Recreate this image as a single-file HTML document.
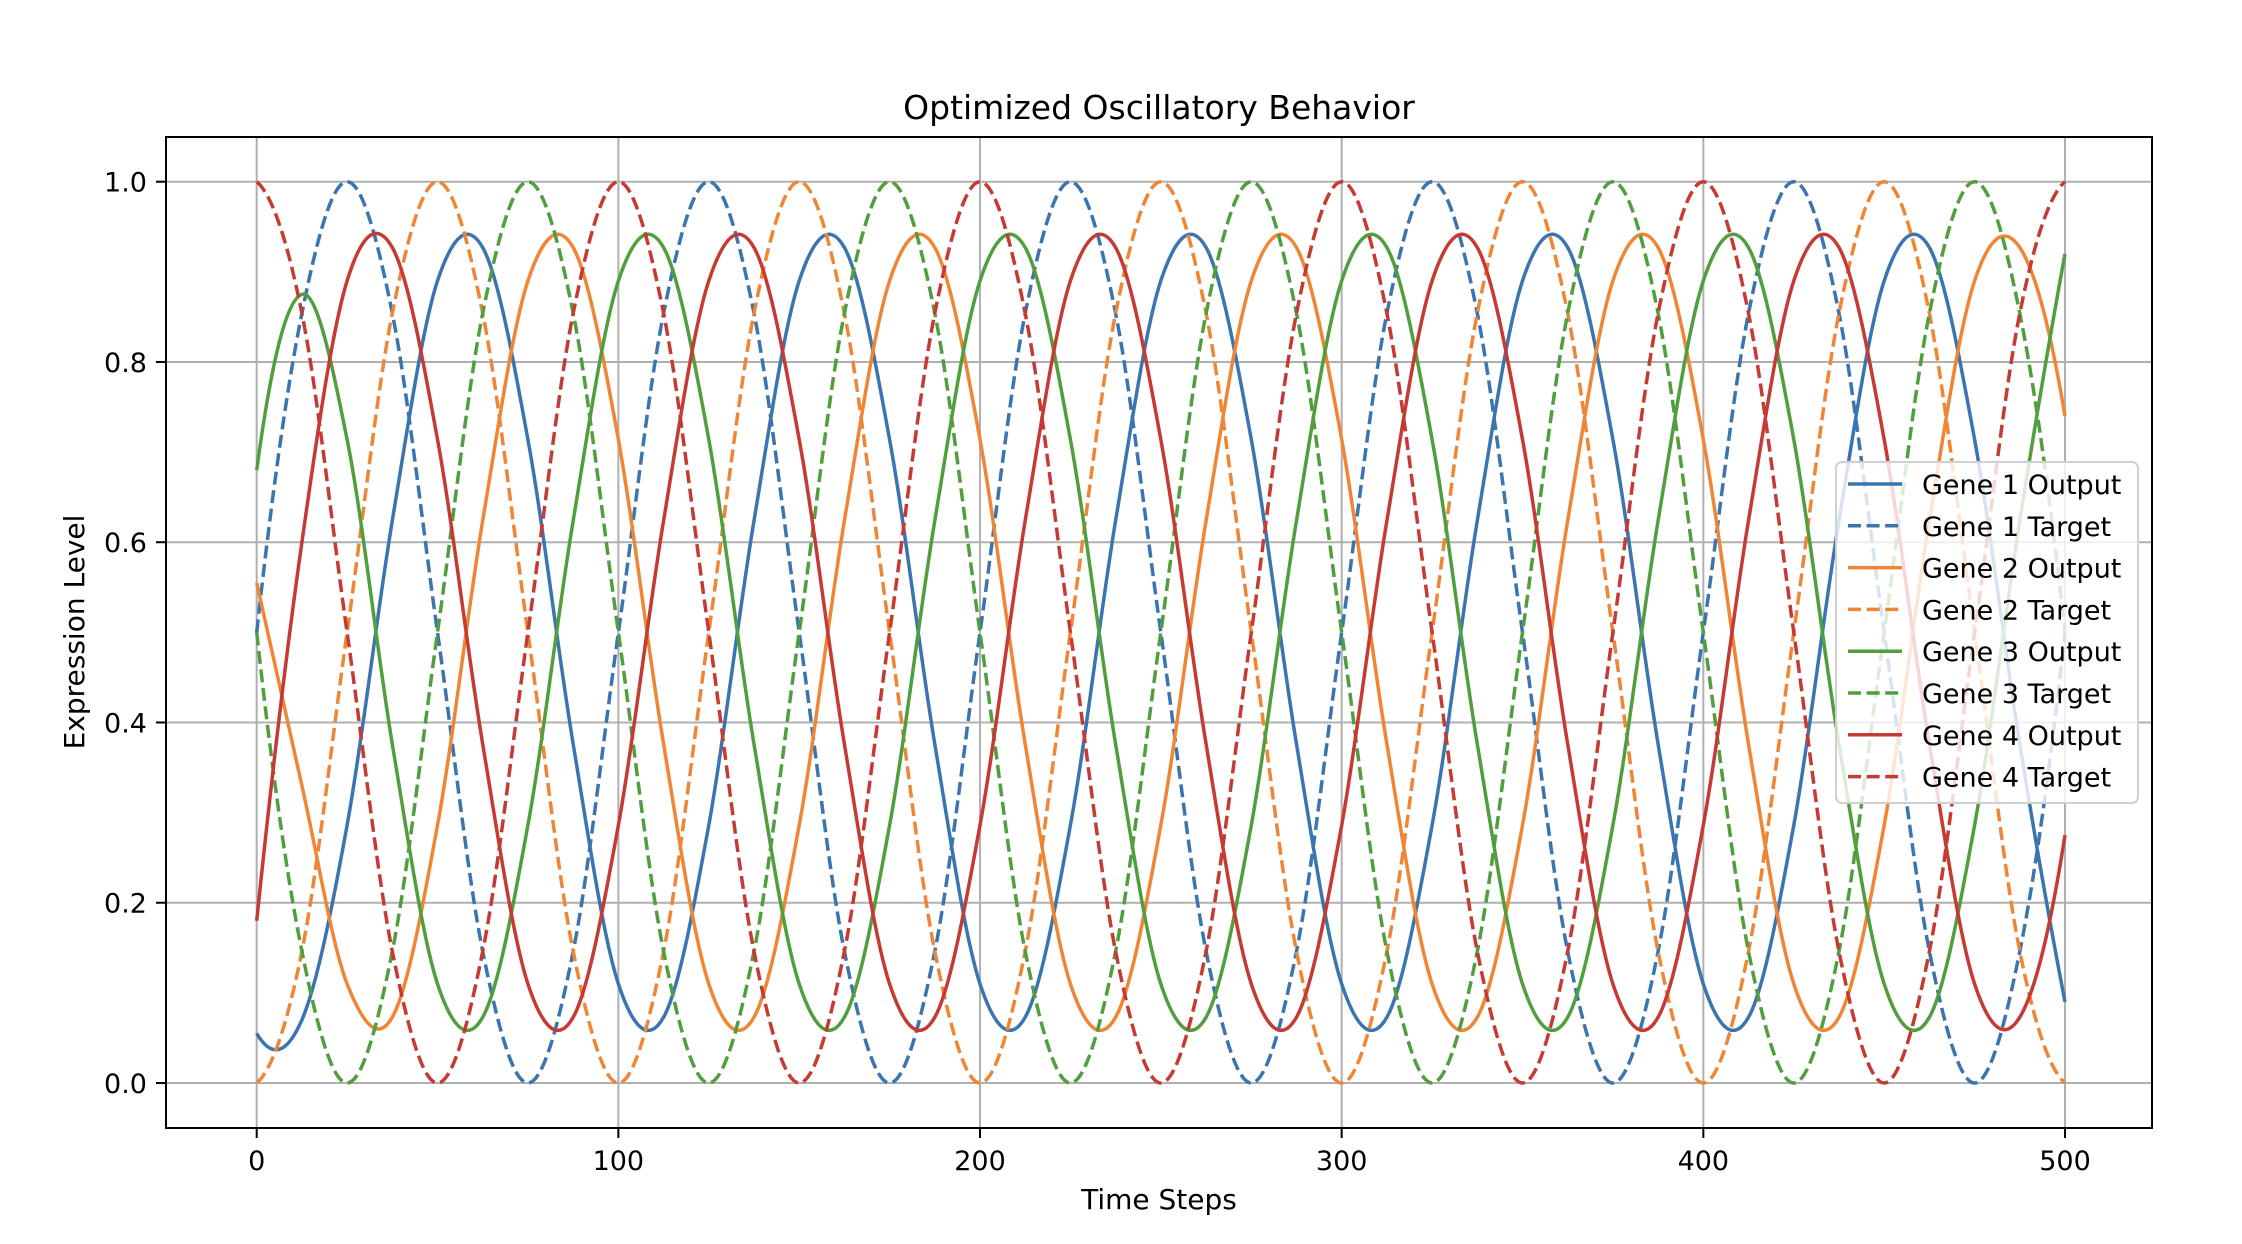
<!DOCTYPE html>
<html><head><meta charset="utf-8"><style>
body{margin:0;background:#fff;}
svg{display:block;font-family:"DejaVu Sans","Liberation Sans",sans-serif;}
</style></head><body>
<svg id="chart" width="2242" height="1244" viewBox="0 0 2242 1244" xmlns="http://www.w3.org/2000/svg">
<rect width="2242" height="1244" fill="#fff"/>
<g id="grid"></g>
<g id="series"></g>
<rect x="166" y="137" width="1986" height="991" fill="none" stroke="#000" stroke-width="2"/>
<g id="ticks"></g>
<text x="1159" y="119" font-size="33" text-anchor="middle">Optimized Oscillatory Behavior</text>
<text x="1159" y="1209" font-size="28" text-anchor="middle">Time Steps</text>
<text x="84" y="632" font-size="28" text-anchor="middle" transform="rotate(-90 84 632)">Expression Level</text>
<g id="legend"></g>
</svg>
<script>
const xTicks=[0,100,200,300,400,500];
const yTicks=[0,0.2,0.4,0.6,0.8,1.0];
const yTickLabels=["0.0","0.2","0.4","0.6","0.8","1.0"];
const seriesNames=["Gene 1 Output","Gene 1 Target","Gene 2 Output","Gene 2 Target","Gene 3 Output","Gene 3 Target","Gene 4 Output","Gene 4 Target"];
const timeSteps=[0,12.5,25,37.5,50,62.5,75,87.5,100,112.5,125,137.5,150,162.5,175,187.5,200,212.5,225,237.5,250,262.5,275,287.5,300,312.5,325,337.5,350,362.5,375,387.5,400,412.5,425,437.5,450,462.5,475,487.5,500];
const gene1Output=[0.055,0.07,0.286,0.624,0.890,0.927,0.714,0.376,0.110,0.073,0.286,0.624,0.890,0.927,0.714,0.376,0.110,0.073,0.286,0.624,0.890,0.927,0.714,0.376,0.110,0.073,0.286,0.624,0.890,0.927,0.714,0.376,0.110,0.073,0.286,0.624,0.890,0.927,0.714,0.376,0.090];
const gene1Target=[0.5,0.854,1,0.854,0.5,0.146,0,0.146,0.5,0.854,1,0.854,0.5,0.146,0,0.146,0.5,0.854,1,0.854,0.5,0.146,0,0.146,0.5,0.854,1,0.854,0.5,0.146,0,0.146,0.5,0.854,1,0.854,0.5,0.146,0,0.146,0.5];
const gene2Output=[0.555,0.330,0.110,0.073,0.286,0.624,0.890,0.927,0.714,0.376,0.110,0.073,0.286,0.624,0.890,0.927,0.714,0.376,0.110,0.073,0.286,0.624,0.890,0.927,0.714,0.376,0.110,0.073,0.286,0.624,0.890,0.927,0.714,0.376,0.110,0.073,0.286,0.624,0.890,0.927,0.740];
const gene2Target=[0,0.146,0.5,0.854,1,0.854,0.5,0.146,0,0.146,0.5,0.854,1,0.854,0.5,0.146,0,0.146,0.5,0.854,1,0.854,0.5,0.146,0,0.146,0.5,0.854,1,0.854,0.5,0.146,0,0.146,0.5,0.854,1,0.854,0.5,0.146,0];
const gene3Output=[0.68,0.875,0.714,0.376,0.110,0.073,0.286,0.624,0.890,0.927,0.714,0.376,0.110,0.073,0.286,0.624,0.890,0.927,0.714,0.376,0.110,0.073,0.286,0.624,0.890,0.927,0.714,0.376,0.110,0.073,0.286,0.624,0.890,0.927,0.714,0.376,0.110,0.073,0.286,0.624,0.920];
const gene3Target=[0.5,0.146,0,0.146,0.5,0.854,1,0.854,0.5,0.146,0,0.146,0.5,0.854,1,0.854,0.5,0.146,0,0.146,0.5,0.854,1,0.854,0.5,0.146,0,0.146,0.5,0.854,1,0.854,0.5,0.146,0,0.146,0.5,0.854,1,0.854,0.5];
const gene4Output=[0.18,0.600,0.890,0.927,0.714,0.376,0.110,0.073,0.286,0.624,0.890,0.927,0.714,0.376,0.110,0.073,0.286,0.624,0.890,0.927,0.714,0.376,0.110,0.073,0.286,0.624,0.890,0.927,0.714,0.376,0.110,0.073,0.286,0.624,0.890,0.927,0.714,0.376,0.110,0.073,0.275];
const gene4Target=[1,0.854,0.5,0.146,0,0.146,0.5,0.854,1,0.854,0.5,0.146,0,0.146,0.5,0.854,1,0.854,0.5,0.146,0,0.146,0.5,0.854,1,0.854,0.5,0.146,0,0.146,0.5,0.854,1,0.854,0.5,0.146,0,0.146,0.5,0.854,1];

const NS="http://www.w3.org/2000/svg";
const X=t=>256.7+(t)*(2065-256.7)/500;
const Y=v=>1083-v*(1083-181.7);
function mk(tag,attrs,parent){const e=document.createElementNS(NS,tag);for(const k in attrs)e.setAttribute(k,attrs[k]);parent.appendChild(e);return e;}
const grid=document.getElementById('grid'),ticks=document.getElementById('ticks');
xTicks.forEach(t=>{
  const g=mk('line',{x1:X(t),x2:X(t),y1:137,y2:1128,stroke:'#b0b0b0','stroke-width':2},grid);
  
  
  const tk=mk('line',{x1:X(t),x2:X(t),y1:1128,y2:1138,stroke:'#000','stroke-width':2},ticks);
  
  
  const lb=mk('text',{x:X(t),y:1170,'font-size':27,'text-anchor':'middle'},ticks);
  lb.textContent=String(t);
  
  
});
yTicks.forEach((v,i)=>{
  const g=mk('line',{x1:166,x2:2152,y1:Y(v),y2:Y(v),stroke:'#b0b0b0','stroke-width':2},grid);
  
  
  const tk=mk('line',{x1:156,x2:166,y1:Y(v),y2:Y(v),stroke:'#000','stroke-width':2},ticks);
  
  
  const lb=mk('text',{x:147,y:Y(v)+10,'font-size':27,'text-anchor':'end'},ticks);
  lb.textContent=yTickLabels[i];
  
  
});
const allSeries=[gene1Output,gene1Target,gene2Output,gene2Target,gene3Output,gene3Target,gene4Output,gene4Target];
const colors=['#3a75b0','#3a75b0','#ef8636','#ef8636','#519e3e','#519e3e','#c53a32','#c53a32'];
function pathFor(vals){
  const p=vals.map((v,i)=>[X(timeSteps[i]),Y(v)]);
  const n=p.length;
  const pre=[2*p[0][0]-p[1][0],3*p[0][1]-3*p[1][1]+p[2][1]];
  const post=[2*p[n-1][0]-p[n-2][0],3*p[n-1][1]-3*p[n-2][1]+p[n-3][1]];
  const q=[pre].concat(p,[post]);
  let d='M'+p[0][0].toFixed(1)+','+p[0][1].toFixed(1);
  for(let i=1;i<q.length-2;i++){
    const p0=q[i-1],p1=q[i],p2=q[i+1],p3=q[i+2];
    const c1=[p1[0]+(p2[0]-p0[0])/6,p1[1]+(p2[1]-p0[1])/6];
    const c2=[p2[0]-(p3[0]-p1[0])/6,p2[1]-(p3[1]-p1[1])/6];
    d+='C'+c1[0].toFixed(1)+','+c1[1].toFixed(1)+' '+c2[0].toFixed(1)+','+c2[1].toFixed(1)+' '+p2[0].toFixed(1)+','+p2[1].toFixed(1);
  }
  return d;
}
const sg=document.getElementById('series');
allSeries.forEach((vals,i)=>{
  const a={d:pathFor(vals),fill:'none',stroke:colors[i],'stroke-width':3.5};
  if(i%2===1)a['stroke-dasharray']='13,5.6';
  const el=mk('path',a,sg);
  
  
});
const lg=document.getElementById('legend');
const box=mk('rect',{x:1836,y:462,width:302,height:341,rx:6,fill:'#fff','fill-opacity':0.8,stroke:'#d0d0d0','stroke-width':2},lg);


seriesNames.forEach((n,i)=>{
  const y=484+i*41.8;
  const a={x1:1848,x2:1902,y1:y,y2:y,stroke:colors[i],'stroke-width':3.5};
  if(i%2===1)a['stroke-dasharray']='13,5.6';
  const l=mk('line',a,lg);
  
  
  const t=mk('text',{x:1922,y:y+10,'font-size':27},lg);
  t.textContent=n;
  
  
});
</script>
</body></html>
